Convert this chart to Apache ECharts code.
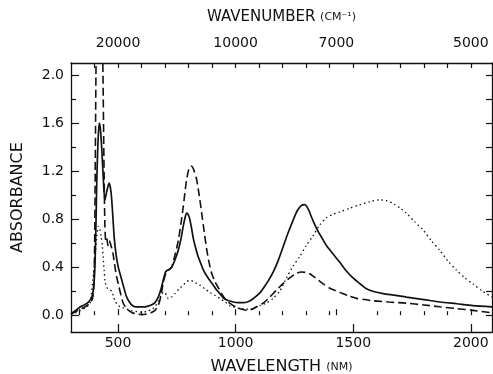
<!DOCTYPE html>
<html>
<head>
<meta charset="utf-8">
<script src="https://cdn.jsdelivr.net/npm/echarts@6/dist/echarts.min.js"></script>
<style>
  html, body { margin: 0; padding: 0; background: #fff; }
  #chart { width: 493px; height: 374px; }
</style>
</head>
<body>
<div id="chart"></div>
<script>
// wavelength (nm) / absorbance
const solidNm = [300, 320, 340, 360, 375, 390, 397, 402, 406, 410, 415, 420, 425, 431, 437, 444, 452, 462, 470, 477, 484, 492, 501, 512, 522, 535, 545, 558, 575, 595, 615, 636, 655, 671, 683, 692, 700, 706, 717, 728, 742, 756, 768, 777, 786, 792, 798, 805, 813, 820, 830, 840, 848, 862, 876, 890, 905, 919, 933, 950, 970, 990, 1010, 1032, 1050, 1070, 1089, 1105, 1120, 1140, 1160, 1180, 1202, 1222, 1244, 1262, 1280, 1292, 1301, 1312, 1322, 1335, 1350, 1368, 1386, 1410, 1443, 1470, 1499, 1530, 1556, 1590, 1627, 1680, 1726, 1800, 1868, 1940, 2009, 2090];
const solidAbs = [0.01, 0.04, 0.07, 0.09, 0.11, 0.16, 0.25, 0.42, 0.75, 1.15, 1.45, 1.60, 1.55, 1.38, 1.15, 0.96, 1.03, 1.10, 1.03, 0.85, 0.64, 0.50, 0.40, 0.32, 0.25, 0.16, 0.12, 0.085, 0.07, 0.07, 0.07, 0.08, 0.10, 0.15, 0.22, 0.29, 0.35, 0.37, 0.38, 0.40, 0.46, 0.54, 0.64, 0.74, 0.82, 0.85, 0.84, 0.80, 0.72, 0.64, 0.56, 0.49, 0.45, 0.38, 0.33, 0.29, 0.25, 0.21, 0.18, 0.14, 0.12, 0.11, 0.105, 0.105, 0.11, 0.13, 0.16, 0.19, 0.23, 0.29, 0.36, 0.45, 0.57, 0.68, 0.79, 0.87, 0.915, 0.92, 0.91, 0.87, 0.82, 0.76, 0.70, 0.64, 0.58, 0.52, 0.44, 0.37, 0.31, 0.26, 0.22, 0.195, 0.18, 0.165, 0.15, 0.13, 0.11, 0.095, 0.08, 0.07];

const dashedNm = [300, 320, 340, 360, 375, 390, 396, 400, 403, 406, 410, 418, 426, 432, 436, 440, 444, 448, 452, 457, 463, 470, 478, 487, 494, 501, 512, 522, 535, 545, 560, 580, 600, 622, 640, 657, 670, 678, 686, 692, 700, 706, 717, 728, 742, 756, 768, 777, 791, 803, 813, 822, 834, 845, 855, 866, 876, 887, 898, 912, 926, 943, 961, 982, 1004, 1025, 1046, 1070, 1089, 1117, 1145, 1174, 1200, 1230, 1255, 1280, 1300, 1315, 1340, 1372, 1405, 1443, 1480, 1514, 1550, 1584, 1650, 1726, 1800, 1868, 1940, 2009, 2090];
const dashedAbs = [0.01, 0.03, 0.05, 0.07, 0.09, 0.13, 0.2, 0.5, 1.2, 2.0, 2.8, 3.2, 3.0, 2.5, 2.0, 1.3, 0.75, 0.62, 0.64, 0.58, 0.62, 0.58, 0.52, 0.40, 0.32, 0.26, 0.17, 0.10, 0.06, 0.04, 0.02, 0.01, 0.005, 0.01, 0.02, 0.04, 0.08, 0.125, 0.2, 0.27, 0.33, 0.36, 0.38, 0.40, 0.50, 0.62, 0.77, 0.90, 1.12, 1.23, 1.24, 1.21, 1.13, 1.0, 0.86, 0.70, 0.56, 0.44, 0.35, 0.28, 0.23, 0.17, 0.12, 0.09, 0.065, 0.05, 0.04, 0.05, 0.07, 0.10, 0.15, 0.21, 0.26, 0.31, 0.345, 0.36, 0.355, 0.345, 0.31, 0.26, 0.22, 0.19, 0.16, 0.14, 0.13, 0.12, 0.11, 0.10, 0.085, 0.07, 0.055, 0.04, 0.02];

const dottedNm = [300, 320, 341, 360, 381, 388, 395, 402, 409, 416, 422, 428, 433, 437, 441, 445, 452, 459, 466, 473, 480, 487, 497, 508, 522, 537, 560, 580, 600, 622, 640, 657, 672, 685, 692, 699, 706, 713, 727, 742, 760, 777, 792, 806, 820, 834, 848, 869, 890, 912, 933, 955, 975, 996, 1018, 1040, 1060, 1080, 1103, 1130, 1159, 1188, 1216, 1245, 1273, 1300, 1329, 1357, 1386, 1415, 1443, 1485, 1528, 1570, 1613, 1640, 1670, 1700, 1726, 1760, 1797, 1832, 1868, 1903, 1939, 1975, 2009, 2050, 2090];
const dottedAbs = [0.005, 0.02, 0.04, 0.06, 0.10, 0.20, 0.34, 0.49, 0.64, 0.74, 0.72, 0.66, 0.58, 0.48, 0.37, 0.28, 0.23, 0.22, 0.21, 0.20, 0.16, 0.12, 0.09, 0.07, 0.06, 0.05, 0.035, 0.03, 0.025, 0.03, 0.045, 0.07, 0.12, 0.17, 0.19, 0.19, 0.16, 0.14, 0.15, 0.18, 0.22, 0.25, 0.28, 0.29, 0.28, 0.265, 0.25, 0.22, 0.19, 0.165, 0.14, 0.11, 0.08, 0.065, 0.055, 0.05, 0.05, 0.06, 0.08, 0.10, 0.14, 0.20, 0.31, 0.41, 0.49, 0.58, 0.66, 0.75, 0.81, 0.84, 0.86, 0.89, 0.92, 0.945, 0.96, 0.955, 0.93, 0.89, 0.85, 0.78, 0.71, 0.62, 0.54, 0.45, 0.375, 0.31, 0.26, 0.20, 0.15];

// axis ticks
const nmMajor = [500, 1000, 1500, 2000];
const nmMinor = [400, 600, 700, 800, 900, 1100, 1200, 1300, 1400, 1600, 1700, 1800, 1900];
const waveNumbers = [20000, 10000, 7000, 5000];
const waveNumberTicks = [30000, 20000, 10000, 7000, 5000];
const absMajor = [0, 0.4, 0.8, 1.2, 1.6, 2.0];
const absMinor = [0.2, 0.6, 1.0, 1.4, 1.8];

const X_MIN = 300, X_MAX = 2090, Y_MIN = -0.14, Y_MAX = 2.1;
const FONT = 'DejaVu Sans';

const pairs = (xs, ys) => xs.map((x, i) => [x, ys[i]]);

const hiddenX = (pos, extra) => Object.assign({
  type: 'value', position: pos, min: X_MIN, max: X_MAX,
  splitLine: { show: false },
  axisLine: { show: false },
  axisLabel: { show: false },
  axisTick: { show: false }
}, extra);

const hiddenY = (pos, extra) => Object.assign({
  type: 'value', position: pos, min: Y_MIN, max: Y_MAX,
  splitLine: { show: false },
  axisLine: { show: false },
  axisLabel: { show: false },
  axisTick: { show: false }
}, extra);

const tickStyle = { color: '#111', width: 1.2 };

const chart = echarts.init(document.getElementById('chart'));
chart.setOption({
  backgroundColor: '#fff',
  animation: false,
  grid: { left: 71, right: 1, top: 63, bottom: 42, containLabel: false, outerBoundsMode: 'none' },
  xAxis: [
    hiddenX('bottom', {
      axisLine: { show: true, onZero: false, lineStyle: { color: '#111', width: 1.3 } },
      axisTick: { show: true, inside: true, length: 8, customValues: nmMajor, lineStyle: tickStyle },
      axisLabel: {
        show: true, customValues: nmMajor, margin: 4,
        color: '#111', fontFamily: FONT, fontSize: 14,
        formatter: v => String(v)
      },
      name: 'WAVELENGTH {s|(NM)}', nameLocation: 'middle', nameGap: 27,
      nameTextStyle: {
        color: '#111', fontFamily: FONT, fontSize: 16,
        rich: { s: { fontSize: 11, fontFamily: FONT, color: '#111' } }
      }
    }),
    hiddenX('bottom', {
      axisTick: { show: true, inside: true, length: 4, customValues: nmMinor, lineStyle: tickStyle }
    }),
    hiddenX('top', {
      axisLine: { show: true, onZero: false, lineStyle: { color: '#111', width: 1.3 } },
      axisTick: { show: true, inside: true, length: 5, customValues: nmMinor.concat(nmMajor), lineStyle: tickStyle }
    }),
    hiddenX('top', {
      axisTick: {
        show: true, inside: false, length: 6,
        customValues: waveNumberTicks.map(w => 1e7 / w), lineStyle: tickStyle
      },
      axisLabel: {
        show: true, customValues: waveNumbers.map(w => 1e7 / w), margin: 13,
        color: '#111', fontFamily: FONT, fontSize: 14,
        formatter: v => String(Math.round(1e7 / v))
      },
      name: 'WAVENUMBER {s|(CM⁻¹)}', nameLocation: 'middle', nameGap: 38,
      nameTextStyle: {
        color: '#111', fontFamily: FONT, fontSize: 15,
        rich: { s: { fontSize: 11, fontFamily: FONT, color: '#111' } }
      }
    })
  ],
  yAxis: [
    hiddenY('left', {
      axisLine: { show: true, onZero: false, lineStyle: { color: '#111', width: 1.3 } },
      axisTick: { show: true, inside: true, length: 8, customValues: absMajor, lineStyle: tickStyle },
      axisLabel: {
        show: true, customValues: absMajor, margin: 7,
        color: '#111', fontFamily: FONT, fontSize: 14,
        formatter: v => v.toFixed(1)
      },
      name: 'ABSORBANCE', nameLocation: 'middle', nameGap: 45,
      nameTextStyle: { color: '#111', fontFamily: FONT, fontSize: 16 }
    }),
    hiddenY('left', {
      axisTick: { show: true, inside: true, length: 5, customValues: absMinor, lineStyle: tickStyle }
    }),
    hiddenY('right', {
      axisLine: { show: true, onZero: false, lineStyle: { color: '#111', width: 1.3 } },
      axisTick: { show: true, inside: true, length: 6, customValues: absMajor.concat(absMinor), lineStyle: tickStyle }
    })
  ],
  series: [
    {
      name: 'solid', type: 'line', xAxisIndex: 0, yAxisIndex: 0,
      data: pairs(solidNm, solidAbs), showSymbol: false, smooth: 0.25, clip: true,
      lineStyle: { color: '#111', width: 1.7, type: 'solid' }
    },
    {
      name: 'dashed', type: 'line', xAxisIndex: 0, yAxisIndex: 0,
      data: pairs(dashedNm, dashedAbs), showSymbol: false, smooth: 0.25, clip: true,
      lineStyle: { color: '#111', width: 1.6, type: [8, 4] }
    },
    {
      name: 'dotted', type: 'line', xAxisIndex: 0, yAxisIndex: 0,
      data: pairs(dottedNm, dottedAbs), showSymbol: false, smooth: 0.25, clip: true,
      lineStyle: { color: '#111', width: 1.3, type: [1.5, 3] }
    }
  ]
});
</script>
</body>
</html>
